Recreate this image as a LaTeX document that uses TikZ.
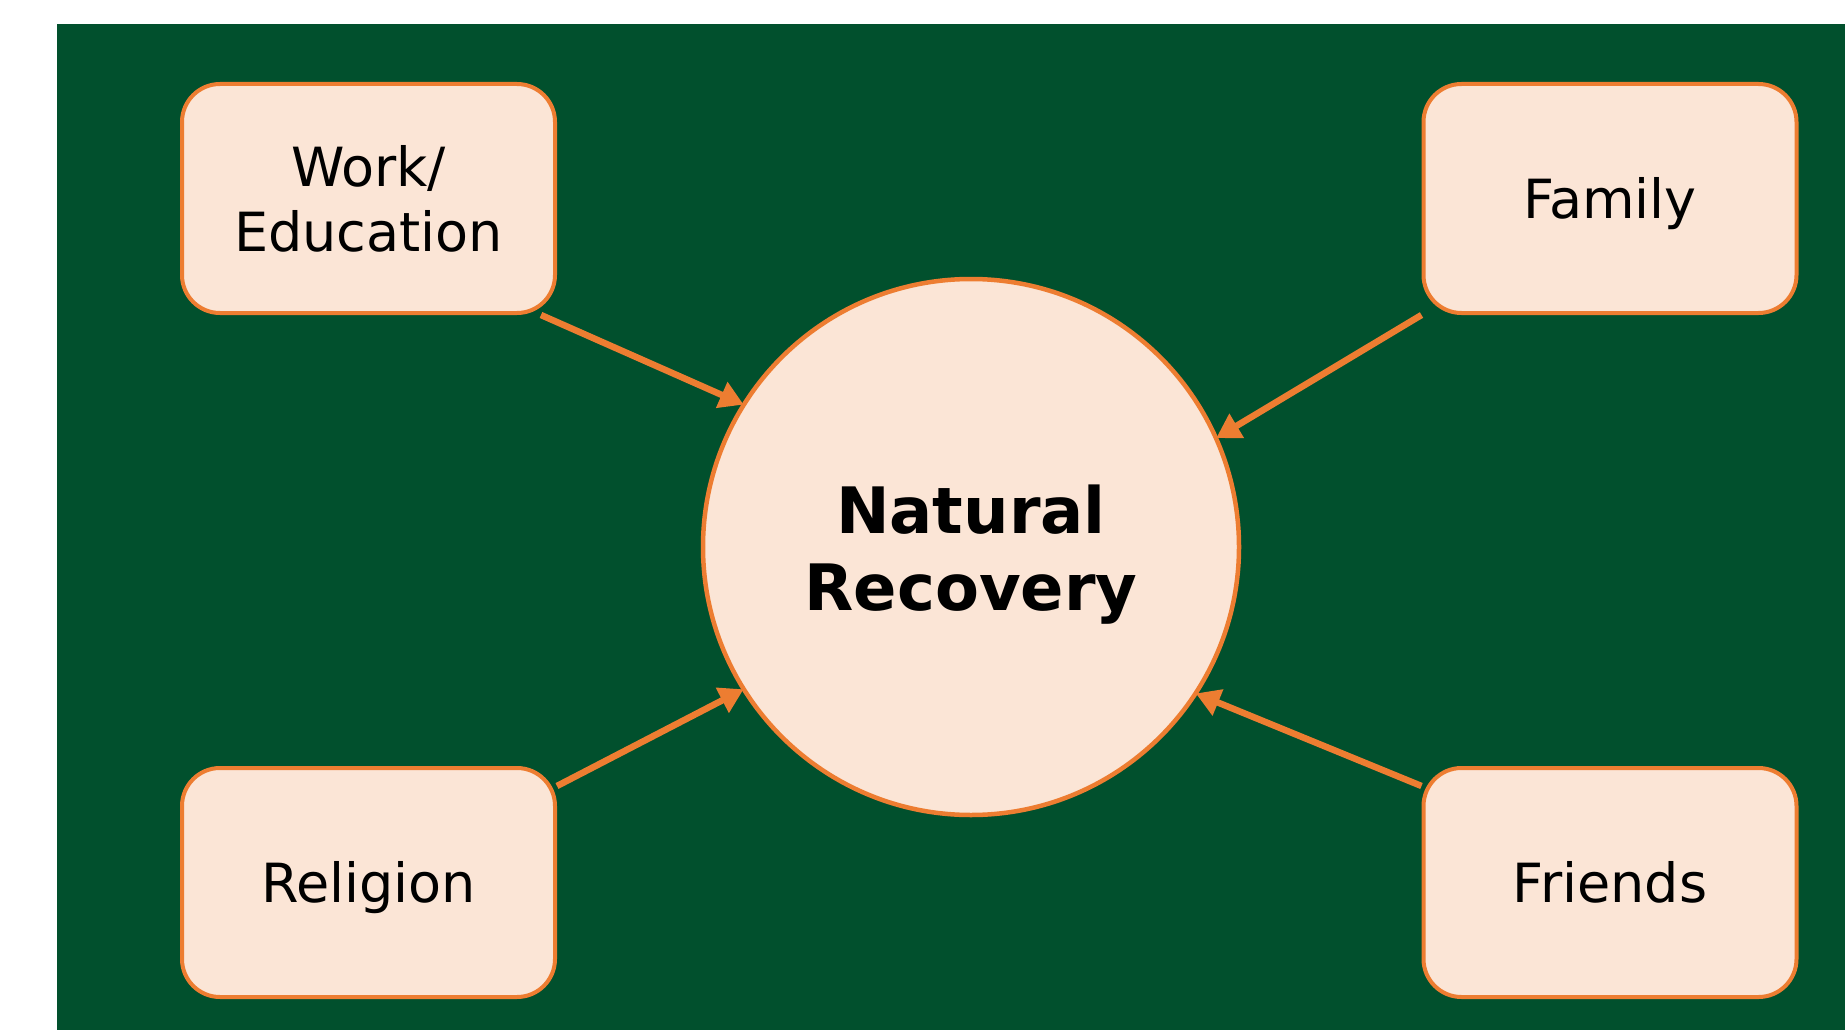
\documentclass[tikz,border=0pt]{standalone}
\usepackage{fontspec}
\setmainfont{DejaVu Sans}
\usetikzlibrary{arrows.meta}
\definecolor{bggreen}{RGB}{1,80,45}
\definecolor{peach}{RGB}{251,229,214}
\definecolor{orng}{RGB}{237,125,49}
\tikzset{
  boxnode/.style={draw=orng, fill=peach, line width=4pt, rounded corners=38pt,
    minimum width=373pt, minimum height=229pt, align=center, inner sep=0pt,
    font=\fontsize{54}{65}\selectfont},
  oneline/.style={text height=40pt, text depth=0pt},
  hubnode/.style={draw=orng, fill=peach, line width=4.5pt, circle, minimum size=536pt,
    inner sep=0pt},
  hubtext/.style={align=center, inner sep=0pt, font=\fontsize{64}{77}\selectfont\bfseries},
  arr/.style={draw=orng, line width=6.5pt, -{Triangle[length=24pt,width=27pt]}, shorten >=-2pt}
}
\begin{document}
\begin{tikzpicture}[x=1pt,y=-1pt]
\useasboundingbox (0,0) rectangle (1845,1030);
\fill[white] (0,0) rectangle (1845,1030);
\fill[bggreen] (57,24) rectangle (1845,1030);
\node[hubnode] (nr) at (971,547) {};
\node[hubtext] (nrt) at ([yshift=-8pt]nr.center) {Natural\\Recovery};
\node[boxnode] (work) at (368.5,198.5) {Work/\\Education};
\node[boxnode, oneline] (fam) at (1610,198.5) {Family};
\node[boxnode, oneline] (rel) at (368.5,882.5) {Religion};
\node[boxnode, oneline] (fri) at (1610,882.5) {Friends};
\draw[arr] ([xshift=-16pt]work.south east) -- (nr.148.4);
\draw[arr] (fam.south west) -- (nr.24);
\draw[arr] ([yshift=-20pt]rel.north east) -- (nr.212.6);
\draw[arr] ([yshift=-20pt]fri.north west) -- (nr.-33.4);
\end{tikzpicture}
\end{document}
